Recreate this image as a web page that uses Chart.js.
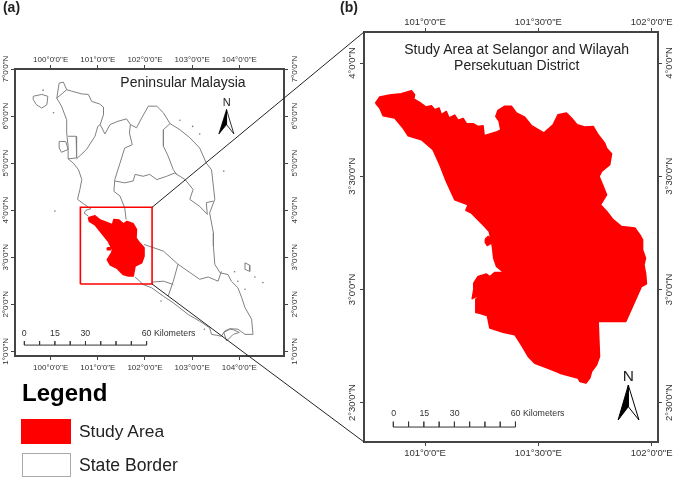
<!DOCTYPE html>
<html lang="en">
<head>
<meta charset="UTF-8">
<title>Study area map</title>
<script src="https://cdn.jsdelivr.net/npm/chart.js"></script>
<style>
    body { margin: 0; background: #fff; font-family: 'Liberation Sans', Arial, sans-serif; color: #222; }
    #page { position: relative; width: 676px; height: 479px; overflow: hidden; filter: blur(0.3px); }
    canvas { position: absolute; }
    #mapA { left: 0; top: 50px; }
    #mapB { left: 345px; top: 12px; }
    #overlay { left: 0; top: 0; pointer-events: none; }
    .t { position: absolute; white-space: nowrap; line-height: 1; }
    .c { transform: translate(-50%, -50%); }
    .l { transform: translateY(-50%); }
    .km { font-size: 8.8px; color: #333; }
    .swatch { position: absolute; box-sizing: border-box; }
</style>
</head>
<body>
<div id="page">
    <canvas id="mapA" width="305" height="330"></canvas>
    <canvas id="mapB" width="331" height="450"></canvas>
    <canvas id="overlay" width="676" height="479"></canvas>

    <div class="t c" style="left:11.5px;top:7px;font-size:14px;font-weight:bold">(a)</div>
    <div class="t c" style="left:349px;top:7px;font-size:14px;font-weight:bold">(b)</div>
    <div class="t c" style="left:183px;top:82px;font-size:14px">Peninsular Malaysia</div>
    <div class="t c" style="left:516.7px;top:48.7px;font-size:14px">Study Area at Selangor and Wilayah</div>
    <div class="t c" style="left:516.7px;top:65px;font-size:14px">Persekutuan District</div>

    <div class="t c" style="left:226.7px;top:101.7px;font-size:11px">N</div>
    <div class="t c" style="left:628.3px;top:376px;font-size:15.5px">N</div>

    <div class="t c km" style="left:24.3px;top:332.7px">0</div>
    <div class="t c km" style="left:55px;top:332.7px">15</div>
    <div class="t c km" style="left:85.3px;top:332.7px">30</div>
    <div class="t l km" style="left:141.7px;top:332.7px">60 Kilometers</div>
    <div class="t c km" style="left:393.7px;top:413.3px">0</div>
    <div class="t c km" style="left:424.3px;top:413.3px">15</div>
    <div class="t c km" style="left:454.7px;top:413.3px">30</div>
    <div class="t l km" style="left:510.7px;top:413.3px">60 Kilometers</div>

    <div class="t l" style="left:22px;top:393px;font-size:24px;font-weight:bold;color:#000">Legend</div>
    <div class="swatch" style="left:21px;top:419px;width:50px;height:25px;background:#ff0000"></div>
    <div class="t l" style="left:79px;top:432.3px;font-size:17.4px">Study Area</div>
    <div class="swatch" style="left:21.5px;top:452.5px;width:49px;height:24.5px;border:1.5px solid #aaa"></div>
    <div class="t l" style="left:79px;top:465.7px;font-size:17.6px">State Border</div>
</div>

<script>
    // ---- Peninsular Malaysia map (a), lon/lat ----
    const lonTicksA = [100, 101, 102, 103, 104];
    const latTicksA = [1, 2, 3, 4, 5, 6, 7];

    // state borders, null = pen up
    const borderLon = [
        100.18, 100.27, 100.34, 100.44, 100.66, 100.80, 100.87, 101.03, 101.12, 101.12, 101.05, 101.15, 101.26,
        101.43, 101.61, 101.69, 101.82, 101.93, 102.07, 102.25, 102.39, 102.53, 102.74, 102.95, 103.16, 103.30,
        103.41, 103.45, 103.48, 103.37, 103.45, 103.45, 103.48, 103.59, 103.76, 103.83, 103.97, 104.05, 104.12,
        104.26, 104.29, 104.12, 103.97, 103.80, 103.69, 103.62, 103.52, 103.41, 103.37, 103.16, 102.92, 102.60,
        102.39, 102.14, 101.96, 101.79, null,
        100.80, 100.71, 100.75, 100.85, 100.69, 100.57, 100.62, 100.66, 100.59, 100.48, 100.37, 100.37, 100.34,
        100.34, 100.23, 100.13, 100.18, null,
        100.13, 100.34, null,
        100.37, 100.54, 100.55, 100.37, null,
        100.55, 100.76, 100.94, 101.00, 101.05, null,
        101.69, 101.67, 101.73, 101.57, 101.47, 101.36, 101.34, 101.47, 101.57, 101.60, null,
        101.36, 101.57, 101.75, 101.79, 101.96, 102.10, 102.25, 102.46, 102.63, 102.85, 103.02, 102.95, 103.16,
        103.32, 103.30, 103.45, null,
        102.53, 102.39, 102.39, 102.49, 102.60, 102.67, null,
        101.98, 102.39, 102.70, 103.16, 103.34, 103.55, 103.62, null,
        102.70, 102.60, 102.49, null,
        102.14, 102.39, 102.60, null,
        99.63, 99.81, 99.94, 99.92, 99.81, 99.70, 99.63, 99.63, null,
        100.18, 100.32, 100.37, 100.23, 100.18, 100.18, null,
        104.12, 104.22, 104.22, 104.12, 104.12, null,
        103.67, 103.80, 103.87, 104.00, 103.87, 103.73, 103.67
    ];
    const borderLat = [
        6.70, 6.72, 6.56, 6.53, 6.47, 6.46, 6.31, 6.26, 6.19, 6.03, 5.82, 5.62, 5.82,
        5.89, 5.94, 5.82, 5.75, 5.96, 6.21, 6.21, 6.07, 5.84, 5.71, 5.54, 5.32, 5.00,
        4.86, 4.51, 4.23, 3.94, 3.52, 3.24, 2.85, 2.67, 2.63, 2.49, 2.35, 2.14, 1.93,
        1.68, 1.36, 1.36, 1.47, 1.48, 1.43, 1.32, 1.34, 1.36, 1.50, 1.64, 1.78, 2.03,
        2.17, 2.35, 2.42, 2.58, null,
        3.87, 3.94, 4.00, 4.03, 4.14, 4.23, 4.44, 4.65, 4.86, 5.00, 5.09, 5.36, 5.64,
        5.92, 6.21, 6.38, 6.70, null,
        6.38, 6.56, null,
        5.57, 5.57, 5.11, 5.09, null,
        5.09, 5.29, 5.57, 5.78, 5.82, null,
        5.82, 5.64, 5.39, 5.32, 5.00, 4.65, 4.40, 4.30, 4.05, 3.80, null,
        4.62, 4.58, 4.62, 4.76, 4.72, 4.76, 4.65, 4.72, 4.79, 4.65, 4.44, 4.23, 4.08,
        3.91, 4.16, 4.19, null,
        5.84, 5.71, 5.36, 5.15, 4.86, 4.76, null,
        3.27, 3.13, 2.85, 2.53, 2.58, 2.49, 2.70, null,
        2.85, 2.49, 2.17, null,
        2.47, 2.49, 2.42, null,
        6.42, 6.46, 6.42, 6.24, 6.17, 6.24, 6.35, 6.42, null,
        5.46, 5.46, 5.29, 5.23, 5.32, 5.46, null,
        2.88, 2.83, 2.70, 2.74, 2.88, null,
        1.40, 1.47, 1.46, 1.40, 1.36, 1.22, 1.40
    ];

    // tiny islands
    const isletLon = [102.74, 103.01, 103.16, 103.67, 100.09, 100.06, 99.84, 103.90, 104.33, 104.50, 104.12, 103.97, 103.26, 102.34];
    const isletLat = [5.91, 5.78, 5.62, 4.83, 3.98, 6.07, 6.55, 2.69, 2.58, 2.46, 2.32, 2.49, 1.47, 2.07];

    // study area as it sits on map (a)
    const studySmallLon = [
        100.80, 100.94, 101.05, 101.19, 101.31, 101.34, 101.45, 101.54, 101.62, 101.75, 101.82, 101.81, 101.89, 101.98, 101.98,
        101.93, 101.79, 101.75, 101.65, 101.54, 101.40, 101.26, 101.20, 101.29, 101.31, 101.22, 101.05, 100.94, 100.82
    ];
    const studySmallLat = [
        3.84, 3.88, 3.79, 3.74, 3.69, 3.80, 3.79, 3.71, 3.76, 3.71, 3.59, 3.41, 3.30, 3.20, 3.02,
        2.88, 2.81, 2.60, 2.60, 2.63, 2.77, 2.84, 2.95, 3.09, 3.16, 3.34, 3.55, 3.69, 3.76
    ];
    const studyIsleSmallLon = [101.20, 101.27, 101.27, 101.20];
    const studyIsleSmallLat = [3.20, 3.20, 3.16, 3.16];

    // red frame on map (a), also where the leader lines start
    const boxLon = [100.63, 102.15];
    const boxLat = [2.43, 4.06];

    // ---- Study area map (b) ----
    const lonTicksB = [101, 101.5, 102];
    const latTicksB = [2.5, 3, 3.5, 4];

    const studyLon = [
        100.781, 100.800, 100.844, 100.895, 100.940, 100.954, 100.950, 100.976, 101.003, 101.028, 101.043, 101.062, 101.072,
        101.094, 101.106, 101.131, 101.146, 101.168, 101.183, 101.212, 101.234, 101.256, 101.261, 101.315, 101.334, 101.327,
        101.312, 101.322, 101.352, 101.381, 101.403, 101.440, 101.470, 101.524, 101.565, 101.587, 101.624, 101.646, 101.671,
        101.705, 101.742, 101.764, 101.793, 101.801, 101.823, 101.815, 101.779, 101.768, 101.786, 101.801, 101.774, 101.801,
        101.830, 101.867, 101.926, 101.948, 101.960, 101.960, 101.973, 101.966, 101.974, 101.977, 101.955, 101.886, 101.764,
        101.770, 101.757, 101.735, 101.727, 101.710, 101.683, 101.676, 101.595, 101.543, 101.484, 101.455, 101.425, 101.396,
        101.344, 101.286, 101.275, 101.241, 101.224, 101.224, 101.256, 101.208, 101.216, 101.215, 101.234, 101.271, 101.286,
        101.308, 101.344, 101.346, 101.352, 101.352, 101.315, 101.303, 101.297, 101.283, 101.263, 101.205, 101.180, 101.190,
        101.131, 101.094, 101.065, 101.035, 100.984, 100.925, 100.903, 100.866, 100.815, 100.800
    ];
    const studyLat = [
        3.823, 3.850, 3.859, 3.864, 3.878, 3.860, 3.841, 3.826, 3.806, 3.811, 3.794, 3.801, 3.772,
        3.786, 3.757, 3.770, 3.747, 3.755, 3.732, 3.732, 3.720, 3.723, 3.679, 3.695, 3.705, 3.742,
        3.764, 3.791, 3.809, 3.809, 3.779, 3.761, 3.723, 3.691, 3.727, 3.772, 3.779, 3.757, 3.727,
        3.717, 3.720, 3.683, 3.646, 3.624, 3.599, 3.551, 3.521, 3.499, 3.455, 3.418, 3.374, 3.345,
        3.308, 3.278, 3.271, 3.241, 3.219, 3.175, 3.138, 3.109, 3.065, 3.025, 3.013, 2.858, 2.858,
        2.704, 2.667, 2.637, 2.608, 2.586, 2.593, 2.608, 2.630, 2.652, 2.674, 2.704, 2.755, 2.800,
        2.811, 2.829, 2.883, 2.895, 2.898, 2.957, 2.984, 2.959, 3.006, 3.028, 3.057, 3.068, 3.057,
        3.075, 3.076, 3.001, 3.001, 3.072, 3.102, 3.138, 3.190, 3.256, 3.278, 3.337, 3.349, 3.374,
        3.396, 3.477, 3.551, 3.617, 3.661, 3.679, 3.713, 3.757, 3.767, 3.801
    ];
    const studyIsleLon = [101.266, 101.278, 101.293, 101.289, 101.274, 101.266];
    const studyIsleLat = [3.222, 3.234, 3.222, 3.202, 3.194, 3.208];

    // scale bars: km marks, and where the 0 and 60 km ends fall on each map
    const scaleKm = [0, 7.5, 15, 22.5, 30, 37.5, 45, 52.5, 60];
    const scaleA = { lon0: 99.442, lon60: 102.034, lat0: 1.132, lat1: 1.217 };
    const scaleB = { lon0: 100.860, lon60: 101.399, lat0: 2.392, lat1: 2.416 };

    // north arrows: apex, wing, notch
    const arrowA = { apex: [103.729, 6.137], left: [103.566, 5.620], right: [103.884, 5.620], notch: [103.729, 5.818] };
    const arrowB = { apex: [101.897, 2.577], left: [101.852, 2.423], right: [101.944, 2.423], notch: [101.897, 2.482] };

    const RED = '#ff0000';
    const BORDER_GREY = '#808080';
    const FRAME = '#444444';

    function pts(lons, lats) {
        return lons.map((x, i) => ({ x: x, y: lats[i] }));
    }

    function polygon(lons, lats, color) {
        const p = pts(lons, lats);
        p.push(p[0]);
        return {
            data: p, showLine: true, fill: 'shape', backgroundColor: color, borderColor: color,
            borderWidth: 1.5, borderJoinStyle: 'round', pointRadius: 0
        };
    }

    function scaleBar(s) {
        const p = [];
        scaleKm.forEach(km => {
            const lon = s.lon0 + (s.lon60 - s.lon0) * km / 60;
            p.push({ x: lon, y: s.lat0 }, { x: lon, y: s.lat1 }, { x: lon, y: s.lat0 });
        });
        return { data: p, showLine: true, borderColor: '#333', borderWidth: 1, pointRadius: 0 };
    }

    function arrow(a, lineWidth) {
        const tri = (w) => [a.apex, a[w], a.notch, a.apex].map(c => ({ x: c[0], y: c[1] }));
        return [
            { data: tri('left'), showLine: true, fill: 'shape', backgroundColor: '#000', borderColor: '#000', borderWidth: lineWidth, pointRadius: 0 },
            { data: tri('right'), showLine: true, fill: 'shape', backgroundColor: '#fff', borderColor: '#000', borderWidth: lineWidth, pointRadius: 0 }
        ];
    }

    // one of the four sides of a map frame
    function side(position, range, ticks, label, size, fontSize, padding) {
        const horizontal = position === 'top' || position === 'bottom';
        return {
            type: 'linear',
            position: position,
            axis: horizontal ? 'x' : 'y',
            min: range[0],
            max: range[1],
            border: { display: true, color: FRAME, width: 2 },
            grid: { drawOnChartArea: false, drawTicks: true, tickLength: 4, color: FRAME, tickWidth: 1 },
            ticks: {
                font: { family: "'Liberation Sans', Arial, sans-serif", size: fontSize },
                color: '#333',
                autoSkip: false,
                padding: padding,
                minRotation: horizontal ? 0 : 90,
                maxRotation: horizontal ? 0 : 90,
                crossAlign: horizontal ? 'near' : 'center',
                callback: label
            },
            afterBuildTicks: scale => { scale.ticks = ticks.map(v => ({ value: v })); },
            afterFit: scale => {
                if (horizontal) scale.height = size; else scale.width = size;
            }
        };
    }

    function mapOptions(cfg) {
        return {
            responsive: false,
            animation: false,
            layout: { padding: 0, autoPadding: false },
            plugins: { legend: { display: false }, tooltip: { enabled: false } },
            scales: {
                x: side('bottom', cfg.lonRange, cfg.lonTicks, cfg.lonLabel, cfg.bottom, cfg.font, cfg.padBottom),
                x2: side('top', cfg.lonRange, cfg.lonTicks, cfg.lonLabel, cfg.top, cfg.font, 0),
                y: side('left', cfg.latRange, cfg.latTicks, cfg.latLabel, cfg.left, cfg.font, cfg.padLeft),
                y2: side('right', cfg.latRange, cfg.latTicks, cfg.latLabel, cfg.right, cfg.font, cfg.padRight)
            }
        };
    }

    function dms(value, hemi) {
        const d = Math.floor(value);
        const m = Math.round((value - d) * 60);
        return d + '\u00B0' + m + "'0\"" + hemi;
    }
    const lonLabel = v => dms(v, 'E');
    const latLabel = v => dms(v, 'N');

    const boxCorners = [[boxLon[0], boxLat[0]], [boxLon[1], boxLat[0]], [boxLon[1], boxLat[1]], [boxLon[0], boxLat[1]], [boxLon[0], boxLat[0]]];

    const chartA = new Chart(document.getElementById('mapA'), {
        type: 'scatter',
        data: {
            datasets: [
                { data: boxCorners.map(c => ({ x: c[0], y: c[1] })), showLine: true, borderColor: RED, borderWidth: 1.6, pointRadius: 0 },
                polygon(studySmallLon, studySmallLat, RED),
                polygon(studyIsleSmallLon, studyIsleSmallLat, RED),
                scaleBar(scaleA),
                ...arrow(arrowA, 0.8),
                { data: pts(borderLon, borderLat), showLine: true, borderColor: BORDER_GREY, borderWidth: 1, pointRadius: 0 },
                { data: pts(isletLon, isletLat), showLine: false, backgroundColor: '#777', pointRadius: 0.8, borderWidth: 0 }
            ]
        },
        options: mapOptions({
            lonRange: [99.244, 104.947], latRange: [0.9, 7.0],
            lonTicks: lonTicksA, latTicks: latTicksA, lonLabel: lonLabel, latLabel: latLabel,
            left: 15, right: 21, top: 19, bottom: 24, font: 8,
            padLeft: -8.5, padRight: -6.5, padBottom: 3
        })
    });

    const chartB = new Chart(document.getElementById('mapB'), {
        type: 'scatter',
        data: {
            datasets: [
                polygon(studyLon, studyLat, RED),
                polygon(studyIsleLon, studyIsleLat, RED),
                scaleBar(scaleB),
                ...arrow(arrowB, 1)
            ]
        },
        options: mapOptions({
            lonRange: [100.7306, 102.028], latRange: [2.326, 4.137],
            lonTicks: lonTicksB, latTicks: latTicksB, lonLabel: lonLabel, latLabel: latLabel,
            left: 19, right: 18, top: 20, bottom: 20, font: 9.5,
            padLeft: -10.5, padRight: -11.5, padBottom: 2
        })
    });

    // leader lines run across both maps, so they go on a page-sized chart on top
    const offA = { x: 0, y: 50 };
    const offB = { x: 345, y: 12 };
    const leaderTop = [
        { x: offA.x + chartA.scales.x.getPixelForValue(boxLon[1]), y: offA.y + chartA.scales.y.getPixelForValue(boxLat[1]) },
        { x: offB.x + chartB.chartArea.left, y: offB.y + chartB.chartArea.top }
    ];
    const leaderBottom = [
        { x: offA.x + chartA.scales.x.getPixelForValue(boxLon[1]), y: offA.y + chartA.scales.y.getPixelForValue(boxLat[0]) },
        { x: offB.x + chartB.chartArea.left, y: offB.y + chartB.chartArea.bottom }
    ];

    new Chart(document.getElementById('overlay'), {
        type: 'scatter',
        data: {
            datasets: [
                { data: leaderTop, showLine: true, borderColor: '#222', borderWidth: 1, pointRadius: 0 },
                { data: leaderBottom, showLine: true, borderColor: '#222', borderWidth: 1, pointRadius: 0 }
            ]
        },
        options: {
            responsive: false,
            animation: false,
            layout: { padding: 0, autoPadding: false },
            plugins: { legend: { display: false }, tooltip: { enabled: false } },
            scales: {
                x: { display: false, min: 0, max: 676 },
                y: { display: false, min: 0, max: 479, reverse: true }
            }
        }
    });
</script>
</body>
</html>
